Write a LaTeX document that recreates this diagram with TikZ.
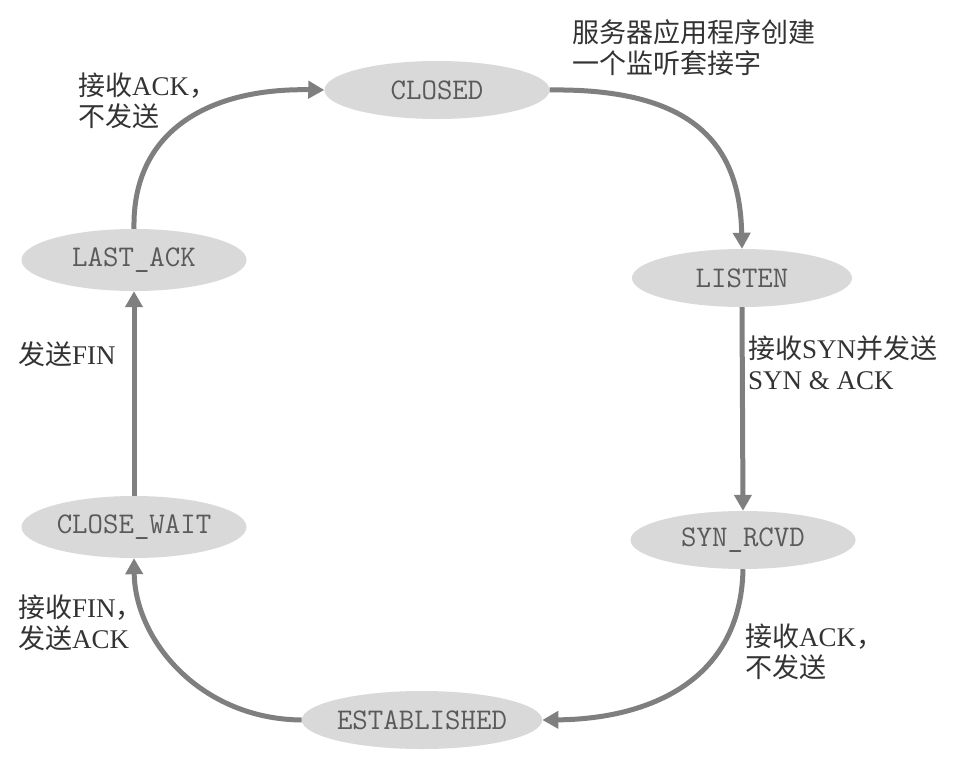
\documentclass[tikz,border=0pt]{standalone}
\usepackage{fontspec}
\setmainfont{Liberation Serif}
\newfontfamily\cjk{Noto Sans CJK SC}
\usetikzlibrary{arrows.meta,shapes.geometric}
\definecolor{stategray}{HTML}{D9D9D9}
\definecolor{arrowgray}{HTML}{7F7F7F}
\definecolor{nodetext}{HTML}{5A5A5A}
\definecolor{labtext}{HTML}{333333}
\tikzset{
  state/.style={ellipse, fill=stategray, minimum width=225pt, minimum height=58pt, inner sep=0pt,
    font=\ttfamily\fontsize{30}{34}\selectfont, text=nodetext},
  flow/.style={line width=5pt, draw=arrowgray, -{Triangle[length=16pt,width=17pt]}},
  lab/.style={font=\fontsize{27}{31}\selectfont, text=labtext, align=left, inner sep=0pt, anchor=north west}
}
\begin{document}
\begin{tikzpicture}[x=1pt,y=-1pt]
\useasboundingbox[fill=white] (0,0) rectangle (962,771);
\node[state] (closed) at (437,90) {CLOSED};
\node[state, minimum width=220pt] (listen) at (742,278) {LISTEN};
\node[state] (synrcvd) at (743,540) {SYN\_RCVD};
\node[state, minimum width=222pt] (est) at (422,720) {ESTABLISHED};
\node[state, minimum height=62pt] (closewait) at (134,527) {CLOSE\_WAIT};
\node[state, minimum height=62pt] (lastack) at (134,260) {LAST\_ACK};

\draw[flow] (closed.east) .. controls (700,88) and (740,150) .. (listen.north);
\draw[flow] (listen.south) -- (synrcvd.north);
\draw[flow] (synrcvd.south) .. controls (741,680) and (650,719) .. (est.east);
\draw[flow] (est.west) .. controls (200,719) and (135,640) .. (closewait.south);
\draw[flow] (closewait.north) -- (lastack.south);
\draw[flow] (lastack.north) .. controls (132,130) and (210,88) .. (closed.west);

\node[lab] (t1) at (572,19) {{\cjk 服务器应用程序创建}\\{\cjk 一个监听套接字}};
\node[lab] (t2) at (78,73) {{\cjk 接收}ACK{\cjk ，}\\{\cjk 不发送}};
\node[lab] (t3) at (18,342) {{\cjk 发送}FIN};
\node[lab] (t4) at (748,336) {{\cjk 接收}SYN{\cjk 并发送}\\SYN \& ACK};
\node[lab] (t5) at (18,595) {{\cjk 接收}FIN{\cjk ，}\\{\cjk 发送}ACK};
\node[lab] (t6) at (745,624) {{\cjk 接收}ACK{\cjk ，}\\{\cjk 不发送}};
\end{tikzpicture}
\end{document}
